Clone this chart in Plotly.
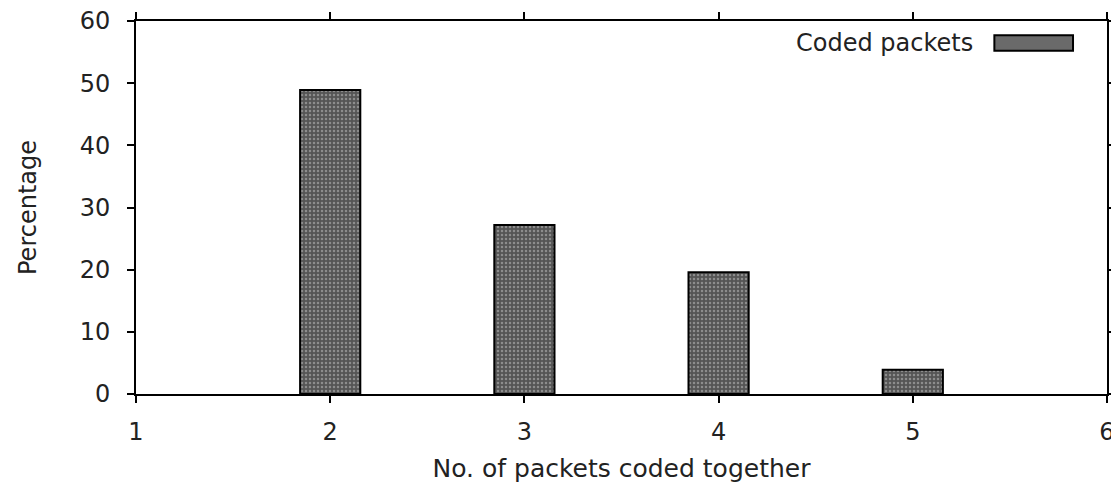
import plotly.graph_objects as go

categories = [2, 3, 4, 5]
values = [48.9, 27.2, 19.6, 3.9]
series_name = "Coded packets"
x_title = "No. of packets coded together"
y_title = "Percentage"
x_ticks = [1, 2, 3, 4, 5, 6]
y_ticks = [0, 10, 20, 30, 40, 50, 60]

FONT = "DejaVu Sans, Liberation Sans, sans-serif"
FS = 24
TXT = "#222222"

fig = go.Figure()
fig.add_trace(go.Bar(
    x=categories, y=values, width=0.31, name=series_name, showlegend=False,
    marker=dict(
        color="#555555",
        line=dict(color="black", width=2),
        pattern=dict(shape=".", fgcolor="#c4c4c4", bgcolor="#555555", size=4, solidity=0.3),
    ),
))

axis_common = dict(
    showline=True, linecolor="black", linewidth=1.6, mirror="ticks",
    ticks="outside", ticklen=7, tickwidth=1.6, tickcolor="black",
    showgrid=False, zeroline=False, automargin=False,
    ticklabeloverflow="allow",
    tickfont=dict(family=FONT, size=FS, color=TXT),
)

fig.update_xaxes(range=[1, 6], tickvals=x_ticks, ticklabelstandoff=8, **axis_common,
                 title=dict(text=x_title, font=dict(family=FONT, size=25, color=TXT), standoff=15))
fig.update_yaxes(range=[0, 60], tickvals=y_ticks, ticklabelstandoff=12, **axis_common,
                 title=dict(text=y_title, font=dict(family=FONT, size=FS, color=TXT), standoff=36))

# legend drawn as text + swatch (text left of swatch as in reference)
fig.add_annotation(xref="paper", yref="paper", x=0.864, y=0.941, xanchor="right", yanchor="middle",
                   text=series_name, showarrow=False, font=dict(family=FONT, size=FS, color=TXT))
fig.add_shape(type="rect", xref="paper", yref="paper", x0=0.884, x1=0.965, y0=0.920, y1=0.962,
              fillcolor="#6a6a6a", line=dict(color="black", width=2))

fig.update_layout(
    width=1111, height=488,
    margin=dict(l=136, r=4, t=21, b=94),
    plot_bgcolor="white", paper_bgcolor="white",
    font=dict(family=FONT, size=FS, color=TXT),
)

fig.write_html("out.html")
